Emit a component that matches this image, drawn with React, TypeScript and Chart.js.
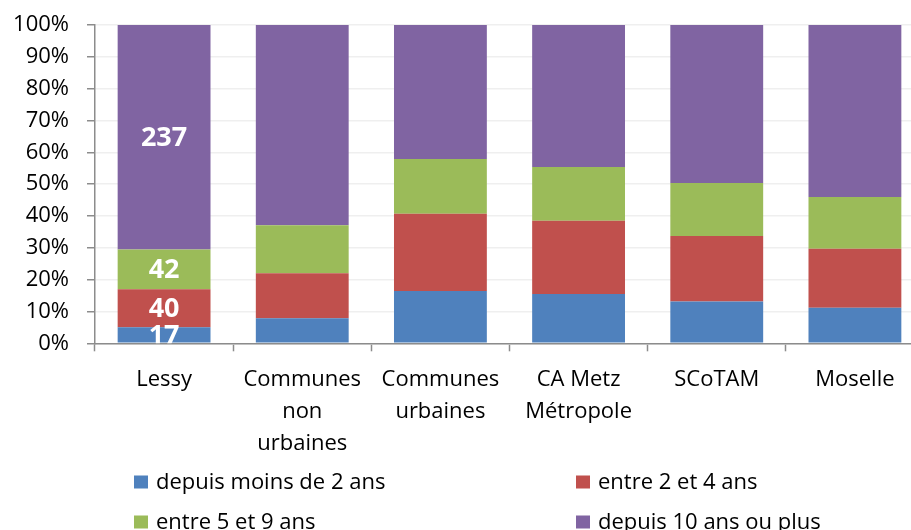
import React, { useEffect, useRef } from "react";
import { Chart, registerables } from "chart.js";

Chart.register(...registerables);

// ---- DATA ----
const categories: string[][] = [
  ["Lessy"],
  ["Communes", "non", "urbaines"],
  ["Communes", "urbaines"],
  ["CA Metz", "Métropole"],
  ["SCoTAM"],
  ["Moselle"],
];
const seriesNames = [
  "depuis moins de 2 ans",
  "entre 2 et 4 ans",
  "entre 5 et 9 ans",
  "depuis 10 ans ou plus",
];
// Lessy in counts (labelled), others in %
const moins2 = [17, 7.9, 16.4, 15.5, 13.1, 11.2];
const de2a4 = [40, 14.1, 24.3, 23.0, 20.6, 18.5];
const de5a9 = [42, 15.1, 17.2, 16.9, 16.7, 16.3];
const plus10 = [237, 62.9, 42.1, 44.6, 49.6, 54.0];
const labelledCategories = [0];
const yTicks = [0, 10, 20, 30, 40, 50, 60, 70, 80, 90, 100];
const colors = ["#4F81BD", "#C0504D", "#9BBB59", "#8064A2"];

const FONT = "'Open Sans', sans-serif";

export default function App() {
  const ref = useRef<HTMLCanvasElement>(null);
  useEffect(() => {
    if (!ref.current) return;
    const raw = [moins2, de2a4, de5a9, plus10];
    const totals = categories.map((_, i) => raw.reduce((s, a) => s + a[i], 0));
    const datasets = seriesNames.map((name, k) => ({
      label: name,
      data: raw[k].map((v, i) => (v / totals[i]) * 100),
      raw: raw[k],
      backgroundColor: colors[k],
      borderWidth: 0,
      barPercentage: 0.672,
      categoryPercentage: 1,
    }));

    const segLabels = {
      id: "segLabels",
      afterDatasetsDraw(chart: any) {
        const ctx = chart.ctx;
        const a = chart.chartArea;
        ctx.save();
        ctx.beginPath();
        ctx.rect(a.left, a.top, a.right - a.left, a.bottom - a.top);
        ctx.clip();
        ctx.fillStyle = "#ffffff";
        ctx.font = `bold 27px ${FONT}`;
        ctx.textAlign = "center";
        ctx.textBaseline = "middle";
        chart.data.datasets.forEach((ds: any, k: number) => {
          const meta = chart.getDatasetMeta(k);
          labelledCategories.forEach((idx) => {
            const el = meta.data[idx];
            ctx.fillText(String(ds.raw[idx]), el.x, (el.y + el.base) / 2 + 1);
          });
        });
        ctx.restore();
      },
    };

    const legendPlugin = {
      id: "customLegend",
      afterDraw(chart: any) {
        const ctx = chart.ctx;
        const cols = [134, 576];
        const rows = [488.5, 528.5];
        ctx.save();
        ctx.font = `22px ${FONT}`;
        ctx.textAlign = "left";
        ctx.textBaseline = "alphabetic";
        chart.data.datasets.forEach((ds: any, k: number) => {
          const x = cols[k % 2];
          const y = rows[Math.floor(k / 2)];
          ctx.fillStyle = ds.backgroundColor;
          ctx.fillRect(x, y - 13, 14, 13);
          ctx.fillStyle = "#000000";
          ctx.fillText(ds.label, x + 22, y);
        });
        ctx.restore();
      },
    };

    const chart = new Chart(ref.current, {
      type: "bar",
      data: { labels: categories as any, datasets: datasets as any },
      options: {
        animation: false,
        responsive: false,
        devicePixelRatio: 1,
        layout: { padding: { top: 25, left: 0, right: 0, bottom: 0 } },
        plugins: { legend: { display: false }, tooltip: { enabled: false } },
        scales: {
          x: {
            stacked: true,
            offset: true,
            grid: {
              offset: true,
              drawOnChartArea: false,
              drawTicks: true,
              tickLength: 8,
              tickColor: "#8c8c8c",
              tickWidth: 1.5,
            },
            border: { color: "#8c8c8c", width: 1.5 },
            ticks: {
              color: "#000000",
              font: { family: FONT, size: 22, lineHeight: 1.4545 },
              padding: 12,
              maxRotation: 0,
              minRotation: 0,
              autoSkip: false,
            },
            afterFit(scale: any) {
              scale.height = 530 - 343.3;
              scale.paddingLeft = 0;
              scale.paddingRight = 0;
            },
          },
          y: {
            stacked: true,
            min: 0,
            max: 100,
            afterBuildTicks(scale: any) {
              scale.ticks = yTicks.map((v) => ({ value: v }));
            },
            grid: {
              color: "#efefef",
              lineWidth: 1.5,
              tickLength: 8,
              tickColor: "#8c8c8c",
              tickWidth: 1.5,
            },
            border: { color: "#8c8c8c", width: 1.5 },
            ticks: {
              color: "#000000",
              font: { family: FONT, size: 22 },
              padding: 18,
              callback: (v: any) => v + "%",
            },
            afterFit(scale: any) {
              scale.width = 95;
              scale.paddingTop = 0;
              scale.paddingBottom = 0;
            },
          },
        },
      },
      plugins: [segLabels, legendPlugin],
    });
    return () => chart.destroy();
  }, []);

  return (
    <div
      style={{
        position: "fixed",
        left: 0,
        top: 0,
        width: 911,
        height: 530,
        overflow: "hidden",
        background: "#ffffff",
      }}
    >
      <canvas ref={ref} width={924} height={530} style={{ display: "block" }} />
    </div>
  );
}
